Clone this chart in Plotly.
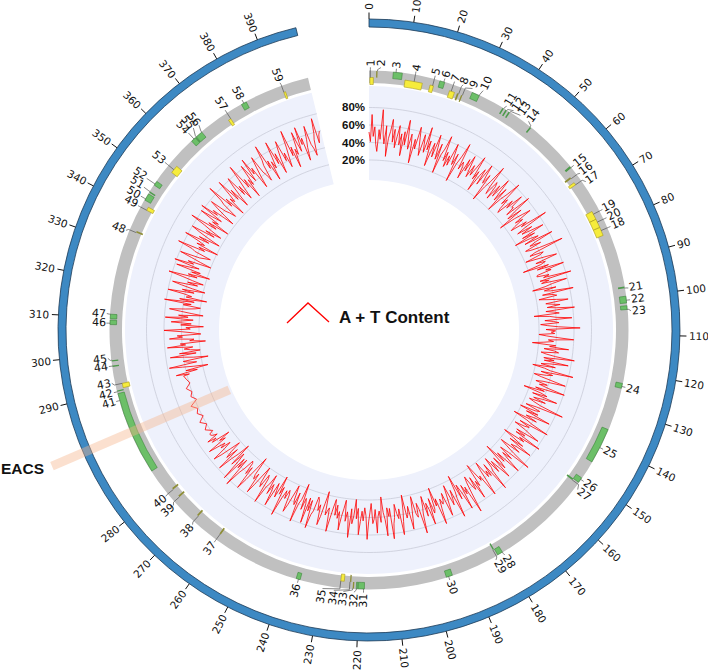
import numpy as np
import plotly.graph_objects as go

W, H = 708, 670
CX, CY = 369.0, 330.0
R_PX = 330.0

# ---------------- genome scale (kb -> degrees clockwise from top); EACS region is stretched
SCALE_KB = [0.0, 286.2, 289.7, 399.0]
SCALE_DEG = [0.0, 237.0, 256.0, 346.4]
GENOME_END = 399.0

# ---------------- data
tick_kb = list(range(0, 400, 10))

gene_num = list(range(1, 60))
gene_start = [0.24, 1.93, 6.52, 9.90, 16.91, 19.20, 22.46, 24.64, 25.84, 28.38,
              37.44, 38.40, 39.37, 46.37, 61.35, 63.76, 65.58, 79.71, 74.88, 77.29,
              96.98, 99.63, 102.17, 123.06, 135.99, 150.72, 152.17, 179.95, 181.52, 194.69,
              218.60, 220.41, 221.38, 222.22, 224.15, 235.99, 260.75, 268.72, 276.09, 278.74,
              286.20, 289.94, 290.67, 296.71, 298.16, 308.08, 309.65, 334.07, 340.84, 343.02,
              345.32, 347.74, 353.30, 363.21, 364.54, 364.90, 374.58, 379.78, 391.62]
gene_end = [1.21, 2.29, 8.94, 14.73, 17.87, 20.53, 23.91, 25.12, 26.21, 30.43,
            37.86, 38.83, 39.79, 46.80, 61.95, 64.25, 66.30, 82.12, 77.29, 79.71,
            97.46, 101.44, 103.20, 124.39, 145.65, 152.17, 152.66, 181.40, 181.88, 196.38,
            220.29, 220.77, 221.74, 222.58, 225.12, 237.08, 261.23, 269.20, 276.57, 279.23,
            289.66, 290.30, 291.88, 297.08, 298.53, 309.29, 310.86, 334.55, 341.81, 344.95,
            345.68, 348.95, 355.48, 364.54, 364.90, 366.84, 375.31, 381.23, 392.10]
# G = green box, Y = yellow box, O = olive line, L = dark green line
gene_kind = ["Y", "O", "G", "Y", "Y", "G", "Y", "O", "O", "G",
             "L", "L", "L", "L", "L", "O", "Y", "Y", "Y", "Y",
             "L", "G", "G", "G", "G", "G", "L", "G", "L", "G",
             "G", "G", "O", "O", "Y", "G", "O", "O", "O", "O",
             "G", "L", "Y", "L", "L", "G", "G", "O", "Y", "G",
             "L", "G", "Y", "G", "L", "G", "Y", "G", "Y"]
# o = outer half of the gene track, i = inner half
gene_strand = ["i", "o", "o", "i", "i", "o", "i", "i", "i", "o",
               "o", "o", "o", "o", "o", "i", "i", "i", "i", "i",
               "o", "o", "o", "o", "o", "o", "i", "o", "i", "o",
               "o", "o", "o", "i", "i", "o", "i", "i", "i", "i",
               "o", "o", "i", "o", "o", "o", "o", "i", "i", "o",
               "o", "o", "i", "o", "o", "o", "i", "o", "i"]
# angular position of each label (degrees) and radius where the label text begins
label_deg = [0.3, 2.6, 6.0, 10.3, 14.6, 16.8, 19.0, 21.0, 23.2, 25.5,
             31.6, 33.4, 35.2, 37.4, 51.2, 53.4, 55.6, 66.8, 62.7, 64.7,
             80.8, 83.4, 85.8, 102.6, 117.0, 125.2, 127.4, 148.9, 151.1, 162.1,
             181.2, 183.3, 185.6, 187.7, 190.2, 195.8, 216.1, 222.2, 228.1, 230.7,
             254.2, 256.2, 258.3, 262.0, 263.8, 271.5, 273.6, 292.3, 298.3, 300.4,
             302.4, 304.3, 309.4, 317.5, 319.0, 320.3, 326.8, 331.1, 340.2]
label_r0 = {10: 266.0, 49: 263.0, 50: 265.3, 51: 267.4, 52: 269.9, 53: 265.0,
            54: 268.0, 55: 268.5, 56: 267.0}

# A + T content (%), per sliding-window position (kb)
at_pos = ([k * 0.5 for k in range(572)] + [286 + 0.25 * k for k in range(16)]
          + [290 + 0.5 * k for k in range(218)])
at_pct = [
    52, 41, 72, 47, 58, 38, 30, 55, 44, 78, 50, 39, 60, 25, 46, 54, 68, 42, 57, 36,
    49, 62, 40, 53, 28, 56, 41, 70, 51, 37, 55, 44, 22, 50, 39, 65, 53, 43, 33, 58,
    47, 38, 68, 42, 53, 24, 40, 52, 36, 63, 49, 35, 54, 20, 43, 50, 66, 37, 48, 31,
    45, 34, 61, 48, 37, 51, 18, 40, 50, 67, 36, 46, 41, 27, 52, 38, 58, 44, 33, 49,
    37, 48, 63, 35, 46, 22, 43, 52, 33, 60, 47, 38, 50, 17, 36, 45, 66, 40, 31, 49,
    44, 28, 48, 34, 59, 45, 32, 50, 20, 38, 47, 64, 35, 43, 30, 25, 46, 36, 57, 41,
    42, 31, 62, 40, 29, 47, 16, 35, 45, 55, 33, 42, 30, 24, 44, 36, 68, 39, 28, 46,
    32, 43, 58, 30, 45, 19, 38, 47, 29, 63, 41, 33, 46, 26, 31, 42, 70, 35, 28, 44,
    40, 21, 33, 46, 57, 31, 42, 36, 14, 44, 30, 61, 39, 45, 28, 27, 41, 34, 66, 29,
    39, 30, 59, 42, 33, 18, 45, 31, 38, 64, 28, 40, 44, 23, 32, 43, 56, 30, 37, 46,
    31, 41, 62, 29, 38, 44, 15, 33, 40, 58, 27, 37, 43, 22, 30, 42, 67, 28, 39, 34,
    38, 20, 29, 42, 60, 31, 37, 26, 13, 40, 33, 55, 27, 39, 44, 24, 30, 41, 63, 28,
    40, 29, 57, 36, 26, 43, 17, 31, 38, 65, 28, 42, 35, 21, 30, 44, 59, 33, 25, 39,
    30, 41, 61, 27, 38, 14, 35, 43, 26, 56, 39, 29, 44, 25, 31, 40, 68, 36, 24, 42,
    37, 19, 42, 28, 58, 39, 30, 44, 16, 33, 41, 62, 27, 40, 35, 23, 38, 45, 57, 29,
    41, 30, 63, 37, 44, 18, 32, 46, 29, 59, 40, 34, 47, 22, 31, 43, 66, 38, 27, 45,
    33, 44, 60, 29, 41, 15, 38, 47, 30, 57, 42, 31, 45, 24, 36, 40, 64, 28, 43, 35,
    42, 21, 31, 46, 62, 35, 40, 28, 17, 44, 37, 58, 30, 45, 39, 26, 33, 47, 69, 36,
    44, 32, 61, 40, 29, 46, 16, 35, 43, 65, 31, 41, 48, 23, 34, 45, 58, 30, 38, 42,
    35, 46, 64, 33, 41, 19, 44, 48, 30, 60, 42, 34, 49, 25, 37, 45, 67, 39, 31, 47,
    43, 22, 35, 47, 59, 32, 41, 45, 18, 36, 48, 63, 33, 44, 38, 27, 42, 49, 66, 31,
    40, 30, 62, 43, 35, 17, 46, 33, 39, 58, 31, 42, 47, 24, 34, 45, 65, 38, 29, 44,
    33, 45, 60, 30, 42, 20, 39, 48, 31, 64, 43, 35, 46, 22, 32, 41, 57, 36, 44, 29,
    41, 23, 32, 45, 61, 34, 38, 43, 16, 30, 46, 56, 33, 40, 28, 25, 42, 47, 63, 31,
    44, 29, 59, 37, 31, 45, 15, 34, 40, 62, 28, 43, 38, 21, 33, 46, 55, 35, 30, 41,
    32, 42, 64, 30, 39, 18, 45, 37, 29, 58, 41, 33, 46, 23, 35, 40, 61, 31, 27, 44,
    39, 20, 31, 45, 57, 33, 41, 36, 14, 30, 47, 60, 32, 42, 28, 26, 38, 46, 65, 30,
    43, 31, 62, 38, 27, 45, 17, 32, 41, 58, 29, 44, 36, 22, 34, 47, 56, 39, 30, 42,
    35, 44, 55, 31, 38, 24, 46, 40, 50, 36, 41, 43,
    43, 38, 45, 40, 46, 39, 44, 41, 47, 38, 43, 40, 45, 39, 42, 44,
    37, 52, 27, 40, 14, 30, 43, 58, 26, 36, 41, 12, 29, 39, 55, 25, 44, 20, 31, 38,
    28, 57, 36, 42, 13, 31, 26, 54, 39, 45, 18, 27, 40, 60, 30, 35, 15, 41, 29, 52,
    39, 27, 59, 33, 44, 16, 29, 42, 55, 37, 26, 20, 40, 31, 62, 28, 45, 14, 38, 32,
    41, 60, 30, 44, 18, 33, 46, 57, 28, 40, 22, 35, 47, 64, 31, 42, 17, 39, 29, 58,
    43, 32, 62, 40, 47, 20, 33, 45, 59, 36, 30, 24, 44, 48, 66, 34, 42, 19, 46, 37,
    45, 63, 34, 47, 22, 37, 50, 60, 32, 44, 25, 38, 49, 67, 35, 46, 21, 43, 36, 61,
    46, 35, 64, 43, 50, 23, 36, 48, 58, 39, 34, 26, 45, 51, 69, 37, 47, 22, 44, 38,
    48, 66, 37, 50, 25, 40, 52, 62, 36, 47, 28, 41, 53, 70, 39, 49, 24, 46, 38, 63,
    50, 40, 68, 47, 54, 27, 41, 52, 64, 43, 38, 30, 49, 55, 72, 42, 51, 26, 48, 39,
    52, 70, 42, 54, 29, 45, 56, 66, 41, 50, 32, 44, 55, 74, 43, 53, 28, 49, 42, 68,
    54, 44, 72, 51, 58, 31, 46, 55, 70, 48, 43, 34, 52, 59, 76, 47, 56, 60,
]
pct_grid = [20, 40, 60, 80]
eacs_kb = 288.0

# ---------------- geometry / style
BLUE_IN, BLUE_OUT = 303.0, 311.0
GRAY_IN, GRAY_OUT = 247.0, 259.5
AT_IN, AT_OUT = 150.0, 244.0
STRAND = {"i": (245.5, 252.5), "o": (252.5, 259.0)}
FILL = {"G": "#6cbf68", "Y": "#f6ec3c", "O": "#8e8e36", "L": "#4e9a4c"}
EDGE = {"G": "#3d863b", "Y": "#a89b1c", "O": "#8e8e36", "L": "#4e9a4c"}


def th(kb):
    return np.interp(kb, SCALE_KB, SCALE_DEG)


def pct_r(p):
    return 152.5 + 0.875 * np.asarray(p, dtype=float)


def to_paper(theta_deg, r_px):
    t = np.radians(theta_deg)
    x = CX + r_px * np.sin(t)
    y = CY - r_px * np.cos(t)
    return x / W, 1 - y / H


def radial_angle(theta_deg):
    t = theta_deg % 360
    return t - 90 if t < 180 else t - 270


END_DEG = th(GENOME_END)
fig = go.Figure()

# tracks
for base, top, col, lc in [(BLUE_IN, BLUE_OUT, "#3d89c3", "#1d3a56"),
                           (GRAY_IN, GRAY_OUT, "#c0c0c0", "#c0c0c0"),
                           (AT_IN, AT_OUT, "#eef1fc", "#eef1fc")]:
    fig.add_trace(go.Barpolar(theta=[END_DEG / 2], width=[END_DEG], base=[base], r=[top - base],
                              marker=dict(color=col, line=dict(color=lc, width=0.8 if lc != col else 0)),
                              hoverinfo="skip", showlegend=False))

# percentage grid circles
gt = np.linspace(0, END_DEG, 400)
for p in pct_grid:
    fig.add_trace(go.Scatterpolar(theta=gt, r=np.full_like(gt, pct_r(p)), mode="lines",
                                  line=dict(color="#c9ccd8", width=0.8), hoverinfo="skip", showlegend=False))

# A+T content line
fig.add_trace(go.Scatterpolar(theta=th(np.array(at_pos, dtype=float)), r=pct_r(at_pct), mode="lines",
                              line=dict(color="#ff0000", width=0.8), hoverinfo="skip", showlegend=False))

# genes
for kind in ["G", "Y", "O", "L"]:
    idx = [i for i in range(len(gene_num)) if gene_kind[i] == kind]
    t0 = th(np.array([gene_start[i] for i in idx]))
    t1 = th(np.array([gene_end[i] for i in idx]))
    wid = np.maximum(t1 - t0, 0.3)
    base = [STRAND[gene_strand[i]][0] for i in idx]
    hgt = [STRAND[gene_strand[i]][1] - STRAND[gene_strand[i]][0] for i in idx]
    fig.add_trace(go.Barpolar(theta=(t0 + t1) / 2, width=wid, base=base, r=hgt,
                              marker=dict(color=FILL[kind],
                                          line=dict(color=EDGE[kind], width=0.6 if kind in "GY" else 0)),
                              hoverinfo="skip", showlegend=False))

# leader lines
lt, lr = [], []
for i, n in enumerate(gene_num):
    a0 = th(gene_start[i]); a1 = th(gene_end[i])
    anc = min(max(label_deg[i], a0), a1)
    rg = STRAND[gene_strand[i]][1]
    r0 = label_r0.get(n, 263.5)
    lt += [anc, anc, label_deg[i], None]
    lr += [rg, 260.5, r0 - 0.8, None]
fig.add_trace(go.Scatterpolar(theta=lt, r=lr, mode="lines", line=dict(color="#555555", width=0.7),
                              hoverinfo="skip", showlegend=False))

# scale ticks
tt, tr = [], []
for kb in tick_kb:
    a = th(kb)
    tt += [a, a, None]
    tr += [BLUE_OUT, 317.5, None]
fig.add_trace(go.Scatterpolar(theta=tt, r=tr, mode="lines", line=dict(color="#111111", width=1),
                              hoverinfo="skip", showlegend=False))

ann = []
for kb in tick_kb:
    a = th(kb)
    s = str(kb)
    x, y = to_paper(a, 320.0 + 3.3 * len(s))
    ann.append(dict(x=x, y=y, xref="paper", yref="paper", text=s, showarrow=False,
                    textangle=radial_angle(a), xanchor="center", yanchor="middle",
                    font=dict(family="DejaVu Sans", size=10.5, color="#111111")))

for i, n in enumerate(gene_num):
    s = str(n)
    r0 = label_r0.get(n, 263.5)
    x, y = to_paper(label_deg[i], r0 + 3.5 * len(s))
    ann.append(dict(x=x, y=y, xref="paper", yref="paper", text=s, showarrow=False,
                    textangle=radial_angle(label_deg[i]), xanchor="center", yanchor="middle",
                    font=dict(family="DejaVu Sans", size=11, color="#111111")))

for p in pct_grid:
    ann.append(dict(x=367 / W, y=1 - (CY - pct_r(p)) / H, xref="paper", yref="paper",
                    text="<b>%d%%</b>" % p, showarrow=False, xanchor="right", yanchor="middle",
                    font=dict(family="Liberation Sans", size=11.5, color="#111111")))

ann.append(dict(x=337 / W, y=1 - 317 / H, xref="paper", yref="paper", text="<b>A + T Content</b>",
                showarrow=False, xanchor="left", yanchor="middle",
                font=dict(family="Liberation Sans", size=17, color="#111111")))

# EACS marker
ea = th(eacs_kb)
ex0, ey0 = to_paper(ea, 152)
ex1, ey1 = to_paper(ea, 345)
ann.append(dict(x=ex1 - 6 / W, y=ey1 - 2.5 / H, xref="paper", yref="paper", text="<b>EACS</b>",
                showarrow=False, xanchor="right", yanchor="middle",
                font=dict(family="Liberation Sans", size=15.5, color="#111111")))

shapes = [
    dict(type="line", xref="paper", yref="paper", x0=ex0, y0=ey0, x1=ex1, y1=ey1,
         line=dict(color="rgba(245,180,140,0.42)", width=9), layer="above"),
    dict(type="path", xref="paper", yref="paper",
         path="M %f %f L %f %f L %f %f" % (287 / W, 1 - 323 / H, 308 / W, 1 - 303 / H, 329 / W, 1 - 322 / H),
         line=dict(color="#ff0000", width=1.3), layer="above"),
]

fig.update_layout(
    width=W, height=H, autosize=False, margin=dict(l=0, r=0, t=0, b=0),
    paper_bgcolor="white", plot_bgcolor="white", showlegend=False,
    polar=dict(
        domain=dict(x=[(CX - R_PX) / W, (CX + R_PX) / W], y=[(H - CY - R_PX) / H, (H - CY + R_PX) / H]),
        bgcolor="rgba(0,0,0,0)", barmode="overlay",
        radialaxis=dict(visible=False, range=[0, R_PX], autorange=False),
        angularaxis=dict(visible=False, rotation=90, direction="clockwise", thetaunit="degrees"),
    ),
    annotations=ann, shapes=shapes,
)

fig.write_html(
    "out.html",
    config={"displayModeBar": False, "staticPlot": True},
    post_script="document.body.style.margin='0';document.body.style.padding='0';"
                "document.documentElement.style.overflow='hidden';",
)
